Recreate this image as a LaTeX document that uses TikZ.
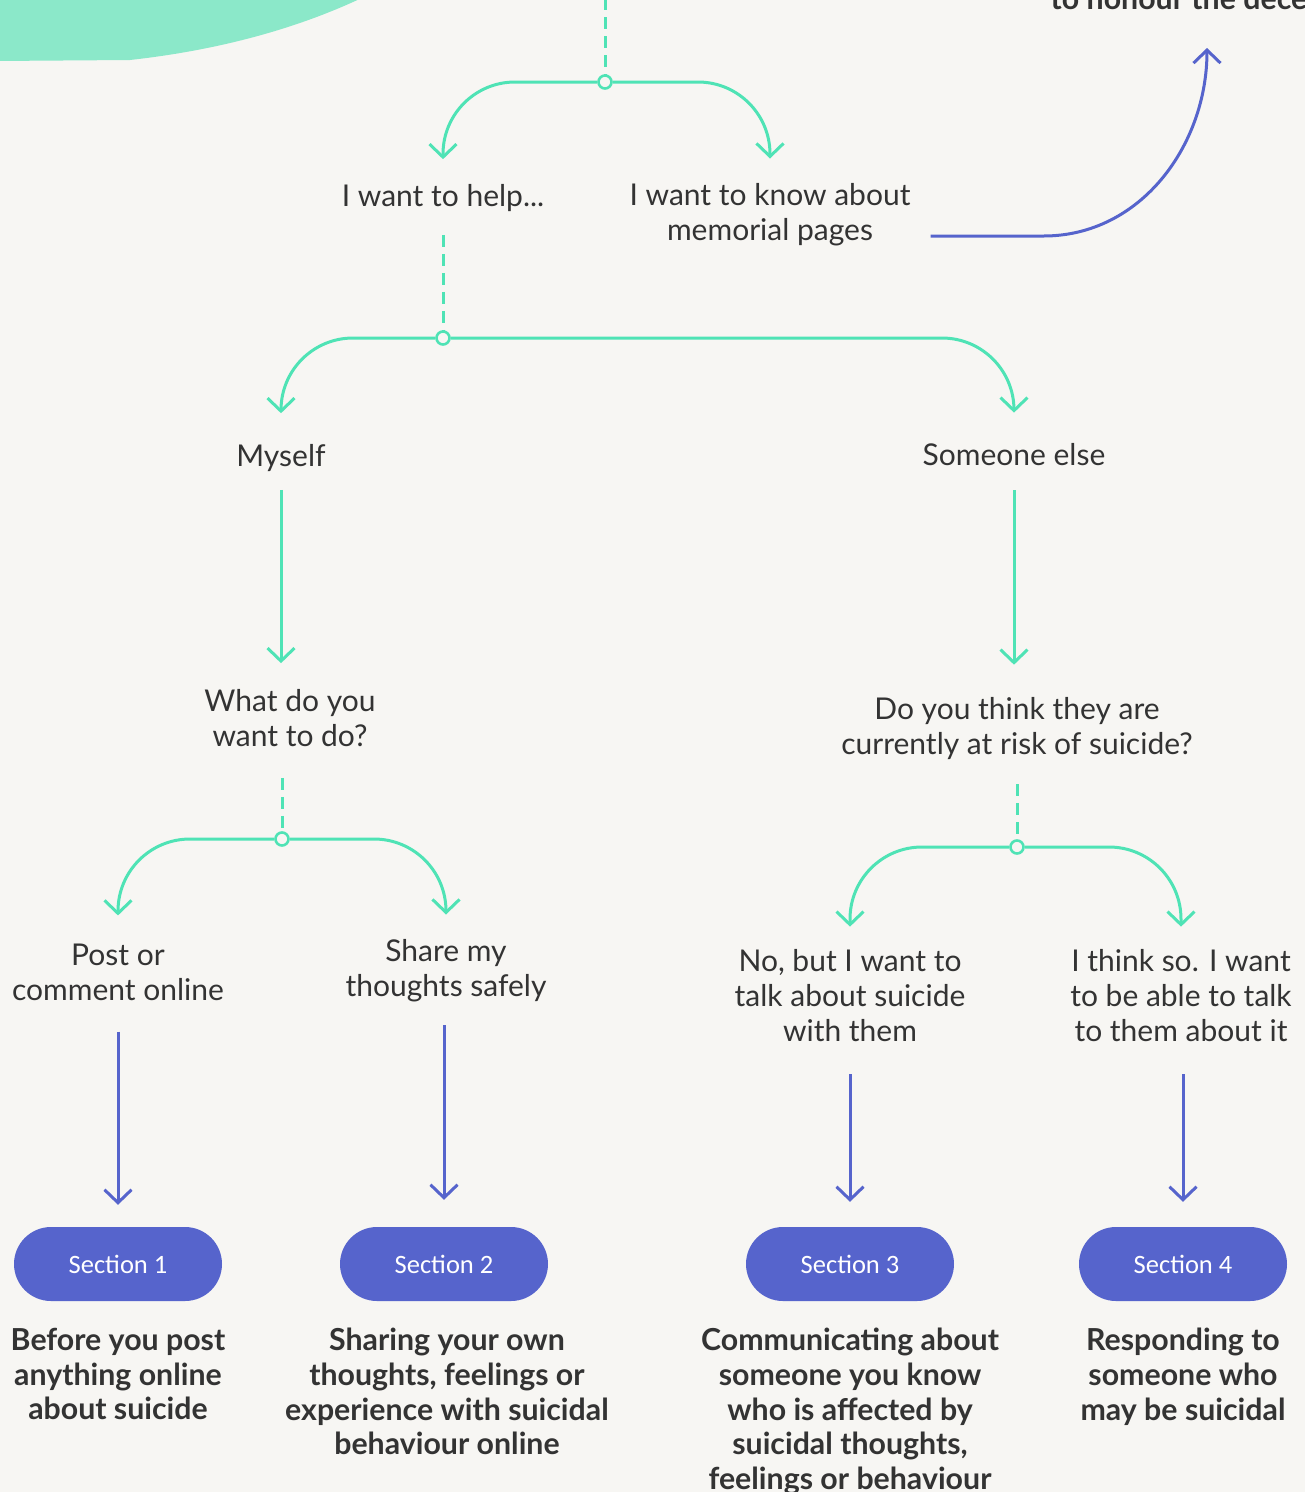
\documentclass[tikz,border=0pt]{standalone}
\usepackage{fontspec}
\setmainfont{Lato}
\newfontfamily\pillfont{Carlito}
\usetikzlibrary{arrows.meta}
\usetikzlibrary{positioning}

\definecolor{paper}{HTML}{F7F6F3}
\definecolor{mint}{HTML}{4FE3B5}
\definecolor{blob}{HTML}{8BE8C9}
\definecolor{indigo}{HTML}{5664CC}
\definecolor{ink}{HTML}{333333}

\tikzset{
  txt/.style={font=\fontsize{30}{35}\selectfont, text=ink, align=center, inner sep=0pt},
  caption/.style={font=\bfseries\fontsize{30.3}{34.6}\selectfont, text=ink, align=center, inner sep=0pt},
  pill/.style={fill=indigo, text=white, rounded corners=37pt, minimum width=208pt,
    minimum height=74pt, font=\pillfont\fontsize{26.5}{30}\selectfont},
  junction/.style={circle, draw=mint, line width=2.6pt, fill=paper, minimum size=13pt, inner sep=0pt},
  barb/.style={-{Straight Barb[length=13pt,width=27pt,line width=3pt]}},
  gline/.style={draw=mint, line width=3pt, rounded corners=72pt, barb},
  gdash/.style={draw=mint, line width=3pt, dash pattern=on 12pt off 7pt},
  bline/.style={draw=indigo, line width=3pt, barb},
}

\begin{document}
\begin{tikzpicture}[x=1pt,y=-1pt]
\fill[paper] (0,0) rectangle (1305,1492);
\useasboundingbox (0,0) rectangle (1305,1492);

% paint blob top left
\fill[blob] (-5,-5) -- (368,-5) .. controls (300,28) and (220,50) .. (130,60) -- (-5,61) -- cycle;

% question texts
\node[txt] (help) at (443,198) {I want to help...};
\node[txt] (memorial) at (770,215) {I want to know about\\memorial pages};
\node[caption, anchor=base] (honour) at (1210,9) {to honour the deceased};
\node[txt] (myself) at (281,458) {Myself};
\node[txt] (someone) at (1014,455) {Someone else};
\node[txt] (whatdo) at (290,718) {What do you\\want to do?};
\node[txt] (atrisk) at (1017,729) {Do you think they are\\currently at risk of suicide?};
\node[txt] (post) at (118,972) {Post or\\comment online};
\node[txt] (share) at (446,971) {Share my\\thoughts safely};
\node[txt] (nobut) at (850,996) {No, but I want to\\talk about suicide\\with them};
\node[txt] (think) at (1181,996) {I think so. I want\\to be able to talk\\to them about it};

% junctions
\coordinate (top) at (605,-2);
\node[junction] (j1) at (605,82) {};
\node[junction] (j2) at (443,338) {};
\node[junction] (j3) at (282,839) {};
\node[junction] (j4) at (1017,847) {};

% sections
\node[pill] (s1) at (118,1264) {Section 1};
\node[pill] (s2) at (444,1264) {Section 2};
\node[pill] (s3) at (850,1264) {Section 3};
\node[pill] (s4) at (1183,1264) {Section 4};

\node[caption, below=27pt of s1] (c1) {Before you post\\anything online\\about suicide};
\node[caption, below=27pt of s2, xshift=3pt] (c2) {Sharing your own\\thoughts, feelings or\\experience with suicidal\\behaviour online};
\node[caption, below=27pt of s3] (c3) {Communicating about\\someone you know\\who is affected by\\suicidal thoughts,\\feelings or behaviour};
\node[caption, below=27pt of s4] (c4) {Responding to\\someone who\\may be suicidal};

% branches
\draw[gdash] (top) -- (j1);
\draw[gline, shorten >=25pt] (j1) -| (help);
\draw[gline, shorten >=25pt] (j1) -| (memorial);
\draw[bline] ([yshift=-21pt]memorial.east) ++(20,0) -- ++(113,0)
  to[out=0,in=-90] ([yshift=-39pt,xshift=-3pt]honour.base);

\draw[gdash, shorten <=23pt] (help) -- (j2);
\draw[gline, shorten >=31pt] (j2) -| (myself);
\draw[gline, shorten >=31pt] (j2) -| (someone);

\draw[gline, shorten <=18pt, shorten >=26pt] (myself.south) -- (myself.south |- whatdo.north);
\draw[gline, shorten <=24pt, shorten >=33pt] (someone.south) -- (someone.south |- atrisk.north);

\draw[gdash, shorten <=31pt] (j3 |- whatdo.south) -- (j3);
\draw[gline, shorten >=28pt] (j3) -| (post);
\draw[gline, shorten >=25pt] (j3) -| (share);

\draw[gdash, shorten <=24pt] (j4 |- atrisk.south) -- (j4);
\draw[gline, shorten >=23pt] (j4) -| (nobut);
\draw[gline, shorten >=23pt] (j4) -| (think);

% to sections
\draw[bline, shorten <=31pt, shorten >=22pt] (post) -- (s1);
\draw[bline, shorten <=23pt, shorten >=27pt] (s2 |- share.south) -- (s2);
\draw[bline, shorten <=32pt, shorten >=25pt] (nobut) -- (s3);
\draw[bline, shorten <=32pt, shorten >=25pt] (s4 |- think.south) -- (s4);

\end{tikzpicture}
\end{document}
